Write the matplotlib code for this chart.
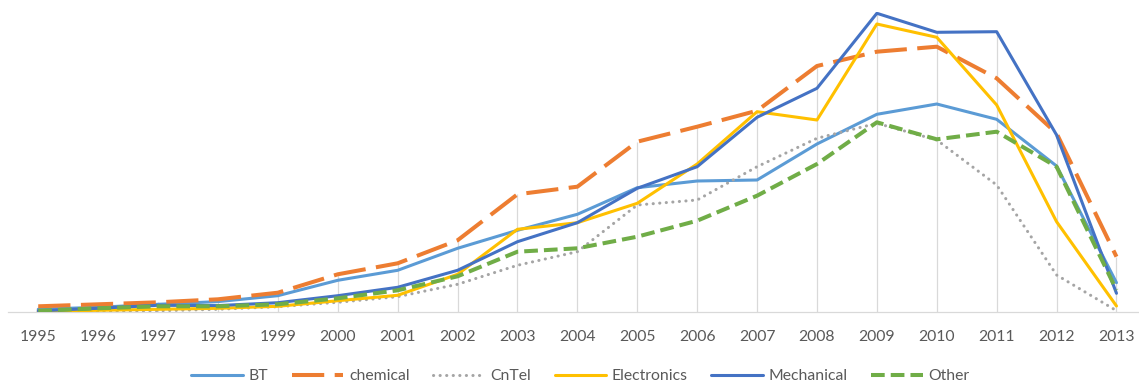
import matplotlib
matplotlib.use("Agg")
import matplotlib.pyplot as plt
import numpy as np

years = [str(y) for y in range(1995, 2014)]

bt = [3, 5, 8, 10.7, 16.6, 32, 42, 64, 82, 98, 124.6, 131.3, 132.3, 168.3, 198, 208.3, 193, 146.3, 29.6]
chemical = [6, 8, 10, 13, 19.6, 38, 49, 72, 118, 125.6, 170.6, 185.6, 201.6, 246.3, 260.6, 265.6, 234, 179, 55.6]
cntel = [0.5, 1, 1.5, 3, 5.6, 10, 15.6, 28, 47, 60.6, 107.3, 112.3, 145.6, 174, 189, 172.3, 127.3, 37.3, 1.6]
electronics = [1, 2, 3, 4, 6, 11.6, 17, 38, 83, 89.6, 109, 148.3, 200.6, 192.3, 288.3, 275, 207.3, 90.6, 6.3]
mechanical = [1.5, 4, 7, 6.7, 9.6, 16.6, 25, 42, 70.6, 89.6, 124, 145.6, 195, 224, 299, 280, 280.6, 177.3, 19]
other = [1.5, 4, 6, 6, 8, 14, 22, 36, 60.6, 64, 75.6, 91.6, 116.6, 148.3, 190, 173, 180.6, 145.6, 22.3]

series = [
    ("BT", bt, dict(color="#5B9BD5", lw=2.2, ls="-")),
    ("chemical", chemical, dict(color="#ED7D31", lw=2.9, ls=(0, (8, 2.6)), dash_capstyle="butt")),
    ("CnTel", cntel, dict(color="#A5A5A5", lw=2.2, ls=(0, (0.05, 2.1)), dash_capstyle="round")),
    ("Electronics", electronics, dict(color="#FFC000", lw=2.2, ls="-")),
    ("Mechanical", mechanical, dict(color="#4472C4", lw=2.2, ls="-")),
    ("Other", other, dict(color="#70AD47", lw=2.9, ls=(0, (3.4, 1.5)), dash_capstyle="butt")),
]

W, H = 1139, 386
fig = plt.figure(figsize=(W / 100, H / 100), dpi=100)
ax = fig.add_axes([8.3 / W, (H - 312.3) / H, 1 - 8.3 / W, 300 / H])

x = np.arange(len(years))

# drop lines from the highest series value down to the axis
tops = np.max(np.array([s[1] for s in series]), axis=0)
ax.vlines(x, 0, tops, color="#D9D9D9", lw=0.9, zorder=1)

for name, vals, style in series:
    ax.plot(x, vals, label=name, solid_capstyle="round", solid_joinstyle="round", zorder=3, **style)

ax.set_xlim(-0.5, 18.376)
ax.set_ylim(0, 300)
ax.set_xticks(x)
ax.set_xticklabels(years, fontsize=11.3, color="#595959", family="Lato")
ax.tick_params(axis="x", length=0, pad=12.5)
ax.set_yticks([])
for side in ("top", "right", "left"):
    ax.spines[side].set_visible(False)
ax.spines["bottom"].set_color("#D9D9D9")
ax.spines["bottom"].set_linewidth(0.9)

leg = fig.legend(loc="center", bbox_to_anchor=(580.5 / W, (H - 376) / H), ncol=6, frameon=False,
                 prop={"family": "Lato", "size": 11.3}, handlelength=3.3, handletextpad=0.35,
                 columnspacing=1.5, borderpad=0)
for t in leg.get_texts():
    t.set_color("#595959")

fig.savefig("out.png", dpi=100)
